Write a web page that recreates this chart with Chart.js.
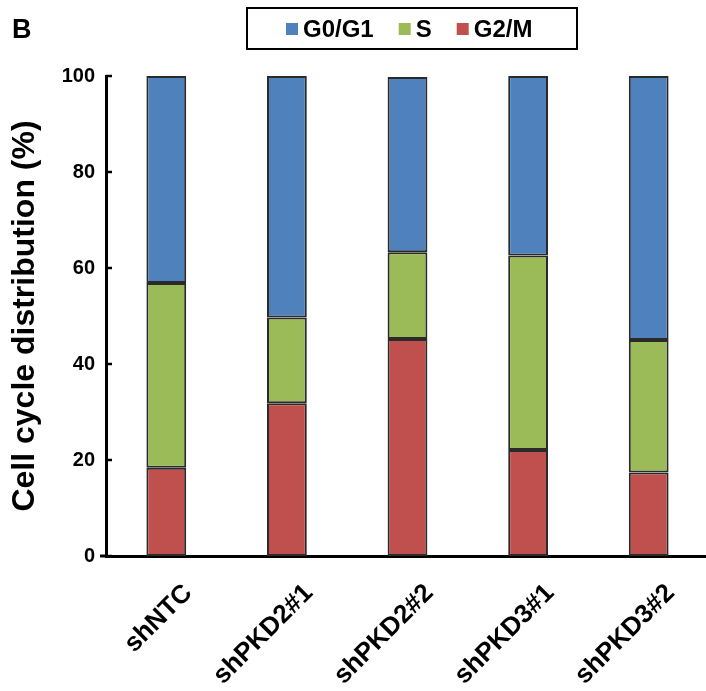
<!DOCTYPE html>
<html>
<head>
<meta charset="utf-8">
<script src="https://cdn.jsdelivr.net/npm/chart.js@4.4.1/dist/chart.umd.min.js"></script>
<style>
  html, body { margin: 0; padding: 0; background: #fff; overflow: hidden; }
  #chartCanvas { display: block; }
</style>
</head>
<body>
<canvas id="chartCanvas" width="709" height="691"></canvas>
<script>
/********** DATA **********/
const categories = ["shNTC", "shPKD2#1", "shPKD2#2", "shPKD3#1", "shPKD3#2"];
// stacked from the bottom: G2/M, then S, then G0/G1 (%)
const g2mValues = [18.4, 31.8, 45.2, 22.1, 17.4];
const sValues = [38.5, 17.9, 18.1, 40.5, 27.6];
const g0g1Values = [43.1, 50.3, 36.5, 37.4, 55.0];
const yTicks = [0, 20, 40, 60, 80, 100];

const FONT = "'Liberation Sans', Arial, sans-serif";

/********** SMALL PLUGINS **********/
// short tick marks pointing into the plot, like the original figure
const innerTicks = {
  id: "innerTicks",
  afterDatasetsDraw(chart) {
    const ctx = chart.ctx;
    const y = chart.scales.y;
    const left = chart.chartArea.left;
    ctx.save();
    ctx.strokeStyle = "#000";
    ctx.lineWidth = 2.5;
    yTicks.forEach(v => {
      const py = y.getPixelForValue(v);
      ctx.beginPath();
      ctx.moveTo(left, py);
      ctx.lineTo(left + 6, py);
      ctx.stroke();
    });
    // x axis runs a little past the y axis
    const py0 = y.getPixelForValue(0);
    ctx.lineWidth = 3;
    ctx.beginPath();
    ctx.moveTo(left - 6, py0);
    ctx.lineTo(left, py0);
    ctx.stroke();
    ctx.restore();
  }
};

// boxed legend + panel letter
const boxedLegend = {
  id: "boxedLegend",
  afterDraw(chart) {
    const ctx = chart.ctx;
    ctx.save();
    ctx.fillStyle = "#000";
    ctx.font = "bold 27px " + FONT;
    ctx.textBaseline = "middle";
    ctx.fillText("B", 12, 31);

    ctx.strokeStyle = "#000";
    ctx.lineWidth = 2;
    ctx.strokeRect(247, 8, 330, 41);

    ctx.font = "bold 24px " + FONT;
    let x = 286;
    const cy = 29;
    // legend order is top to bottom of the stack
    const items = chart.data.datasets.slice().reverse();
    items.forEach(ds => {
      ctx.fillStyle = ds.backgroundColor;
      ctx.fillRect(x, cy - 6, 12, 12);
      ctx.fillStyle = "#000";
      ctx.fillText(ds.label, x + 17, cy + 1);
      x += 17 + ctx.measureText(ds.label).width + 25;
    });
    ctx.restore();
  }
};

/********** CHART **********/
const ctx = document.getElementById("chartCanvas").getContext("2d");
const barStyle = {
  borderColor: "#2a2a2a",
  borderWidth: 2,
  borderSkipped: false,
  categoryPercentage: 1.0,
  barPercentage: 0.33
};

new Chart(ctx, {
  type: "bar",
  data: {
    labels: categories,
    datasets: [
      Object.assign({ label: "G2/M", data: g2mValues, backgroundColor: "#C0504D" }, barStyle),
      Object.assign({ label: "S", data: sValues, backgroundColor: "#9BBB59" }, barStyle),
      Object.assign({ label: "G0/G1", data: g0g1Values, backgroundColor: "#4F81BD" }, barStyle)
    ]
  },
  options: {
    responsive: false,
    animation: false,
    layout: { padding: { top: 76, right: 0, bottom: 0, left: 0 } },
    plugins: {
      legend: { display: false },
      tooltip: { enabled: false }
    },
    scales: {
      x: {
        stacked: true,
        grid: { display: false, drawTicks: false },
        border: { display: true, color: "#000", width: 3 },
        ticks: {
          color: "#000",
          font: { family: FONT, size: 26, weight: "bold" },
          maxRotation: 45,
          minRotation: 45,
          padding: 22,
          labelOffset: 22
        },
        afterFit(scale) { scale.height = 135; }
      },
      y: {
        stacked: true,
        min: 0,
        max: 100,
        grid: { display: false, drawTicks: false },
        border: { display: true, color: "#000", width: 3 },
        ticks: {
          stepSize: 20,
          color: "#000",
          font: { family: FONT, size: 20, weight: "bold" },
          padding: 11
        },
        title: {
          display: true,
          text: "Cell cycle distribution (%)",
          color: "#000",
          font: { family: FONT, size: 32, weight: "bold" },
          padding: { top: 6, bottom: 0 }
        },
        afterFit(scale) { scale.width = 106; }
      }
    }
  },
  plugins: [innerTicks, boxedLegend]
});
</script>
</body>
</html>
